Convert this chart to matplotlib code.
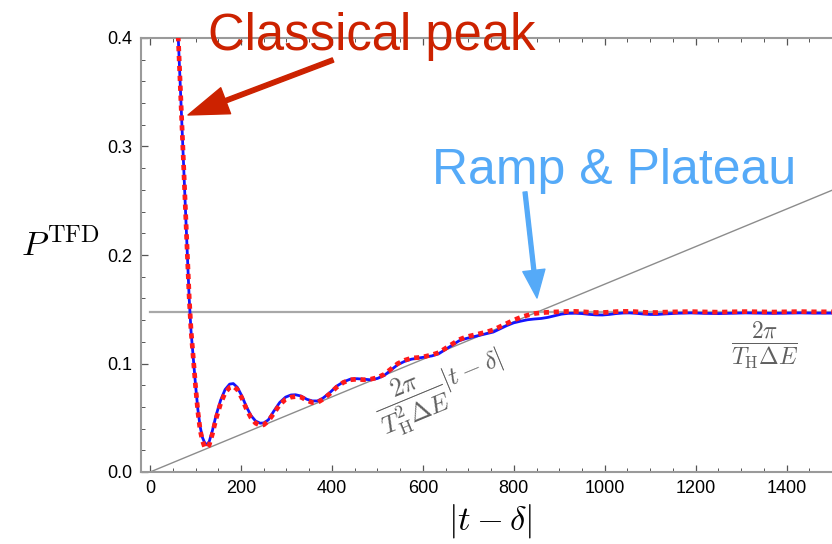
import numpy as np
import matplotlib.pyplot as plt
from matplotlib.patches import FancyArrowPatch
from matplotlib.ticker import MultipleLocator

plt.rcParams['mathtext.fontset'] = 'cm'

# |t - delta| sample points (shared by both curves)
t = [60, 62, 67, 72, 77, 82, 86, 90, 95, 100, 105, 110, 115, 120, 125, 130,
     137, 145, 155, 165, 175, 183, 192, 202, 212, 222, 232, 242, 250, 260,
     272, 285, 298, 310, 320, 332, 345, 357, 368, 380, 395, 410, 425, 440,
     455, 470, 485, 500, 515, 530, 545, 560, 575, 590, 605, 620, 635, 650,
     665, 680, 695, 710, 725, 740, 755, 770, 785, 800, 815, 830, 845, 860,
     875, 890, 905, 920, 935, 950, 965, 980, 995, 1010, 1025, 1040, 1055,
     1070, 1085, 1100, 1115, 1130, 1160, 1190, 1220, 1250, 1280, 1310, 1340,
     1370, 1400, 1430, 1460, 1500]

# exact (blue, solid)
p_exact = [0.420, 0.400, 0.350, 0.300, 0.250, 0.200, 0.160, 0.130, 0.105,
           0.080, 0.058, 0.042, 0.032, 0.027, 0.025, 0.028, 0.038, 0.052,
           0.066, 0.076, 0.081, 0.0815, 0.078, 0.070, 0.060, 0.052, 0.047,
           0.045, 0.0452, 0.048, 0.056, 0.064, 0.069, 0.071, 0.0712, 0.070,
           0.067, 0.0655, 0.0655, 0.068, 0.073, 0.079, 0.083, 0.0855, 0.086,
           0.0855, 0.085, 0.0862, 0.089, 0.094, 0.099, 0.102, 0.104, 0.105,
           0.106, 0.107, 0.109, 0.113, 0.117, 0.121, 0.123, 0.1245, 0.126,
           0.1275, 0.129, 0.132, 0.135, 0.1375, 0.139, 0.1403, 0.1410,
           0.1415, 0.1425, 0.1440, 0.1455, 0.1462, 0.1463, 0.1460, 0.1453,
           0.1448, 0.1447, 0.1452, 0.1460, 0.1465, 0.1466, 0.1462, 0.1456,
           0.1452, 0.1452, 0.1456, 0.1463, 0.1466, 0.1462, 0.1460, 0.1463,
           0.1466, 0.1464, 0.1462, 0.1464, 0.1466, 0.1464, 0.1464]

# approximation (red, dotted)
p_approx = [0.420, 0.400, 0.350, 0.300, 0.250, 0.200, 0.161, 0.131, 0.105,
            0.079, 0.056, 0.039, 0.029, 0.023, 0.022, 0.025, 0.035, 0.049,
            0.063, 0.073, 0.078, 0.079, 0.076, 0.068, 0.058, 0.050, 0.045,
            0.043, 0.0435, 0.047, 0.054, 0.062, 0.067, 0.069, 0.0695, 0.069,
            0.066, 0.064, 0.064, 0.067, 0.072, 0.078, 0.0825, 0.085, 0.0855,
            0.085, 0.0855, 0.087, 0.090, 0.095, 0.100, 0.103, 0.105, 0.1055,
            0.1065, 0.108, 0.110, 0.114, 0.118, 0.122, 0.1245, 0.126, 0.1275,
            0.129, 0.131, 0.134, 0.137, 0.140, 0.1425, 0.1445, 0.1460,
            0.1468, 0.1472, 0.1475, 0.1478, 0.1480, 0.1480, 0.1477, 0.1473,
            0.1470, 0.1470, 0.1473, 0.1478, 0.1480, 0.1480, 0.1477, 0.1472,
            0.1470, 0.1470, 0.1473, 0.1476, 0.1478, 0.1475, 0.1473, 0.1476,
            0.1478, 0.1476, 0.1474, 0.1476, 0.1478, 0.1476, 0.1476]

plateau = 0.1472
ramp_slope = 1.731e-4
t_end = 1500

fig = plt.figure(figsize=(8.32, 5.44), dpi=100)
ax = fig.add_axes([141 / 832, 1 - 472 / 544, 1 - 141 / 832, (472 - 38) / 544])

gray = '#9a9a9a'
ax.plot([0, t_end], [plateau, plateau], color='#a8a8a8', lw=1.6, zorder=1)
ax.plot([0, t_end], [0, ramp_slope * t_end], color='#8c8c8c', lw=1.0, zorder=1)
ax.plot(t, p_exact, color='#1414ff', lw=2.0, zorder=3)
ax.plot(t, p_approx, color='#ff1a1a', lw=3.4, ls=(0, (1.1, 1.0)), zorder=4)

ax.set_xlim(-20, t_end)
ax.set_ylim(0, 0.4)
ax.xaxis.set_major_locator(MultipleLocator(200))
ax.xaxis.set_minor_locator(MultipleLocator(50))
ax.yaxis.set_major_locator(MultipleLocator(0.1))
ax.yaxis.set_minor_locator(MultipleLocator(0.02))
ax.yaxis.set_major_formatter(plt.FuncFormatter(lambda v, p: f'{v:.1f}'))

for side in ['left', 'bottom', 'top']:
    ax.spines[side].set_color(gray)
    ax.spines[side].set_linewidth(1.5)
ax.spines['right'].set_visible(False)
ax.tick_params(which='both', direction='in', color='#555555', top=True,
               labeltop=False)
ax.tick_params(which='major', length=5, width=0.9, labelsize=13, pad=6)
ax.tick_params(which='minor', length=3, width=0.7)
for lab in ax.get_xticklabels() + ax.get_yticklabels():
    lab.set_fontfamily('Liberation Sans')

# axis labels
fig.text(60 / 832, 1 - 246 / 544, r'$P^{\rm TFD}$', fontsize=25,
         ha='center', va='center')
fig.text(490 / 832, 1 - 521 / 544, r'$|t-\delta|$', fontsize=25,
         ha='center', va='center')

# formula labels
ax.text(640, 0.075, r'$\dfrac{2\pi}{T_{\rm H}^2\Delta E}|t-\delta|$',
        fontsize=18.5, color='#606060', rotation=22.5, rotation_mode='anchor',
        ha='center', va='center')
ax.text(1351, 0.117, r'$\dfrac{2\pi}{T_{\rm H}\Delta E}$', fontsize=17,
        color='#606060', ha='center', va='center')

# callouts
red = '#cc2200'
blue = '#55aaf8'
fig.text(208 / 832, 1 - 50 / 544, 'Classical peak', color=red, fontsize=36.5,
         family='Liberation Sans', ha='left', va='baseline')
fig.text(432 / 832, 1 - 184 / 544, 'Ramp & Plateau', color=blue, fontsize=36,
         family='Liberation Sans', ha='left', va='baseline')


def px(x, y):
    return (x / 832, 1 - y / 544)


fig.add_artist(FancyArrowPatch(
    px(333, 60), px(188, 115), transform=fig.transFigure,
    arrowstyle='simple,head_length=1.45,head_width=1.0,tail_width=0.16',
    mutation_scale=20, color=red, shrinkA=0, shrinkB=0))
fig.add_artist(FancyArrowPatch(
    px(525, 192), px(537, 298), transform=fig.transFigure,
    arrowstyle='simple,head_length=1.0,head_width=0.8,tail_width=0.14',
    mutation_scale=20, color=blue, shrinkA=0, shrinkB=0))

fig.savefig('out.png', dpi=100)
